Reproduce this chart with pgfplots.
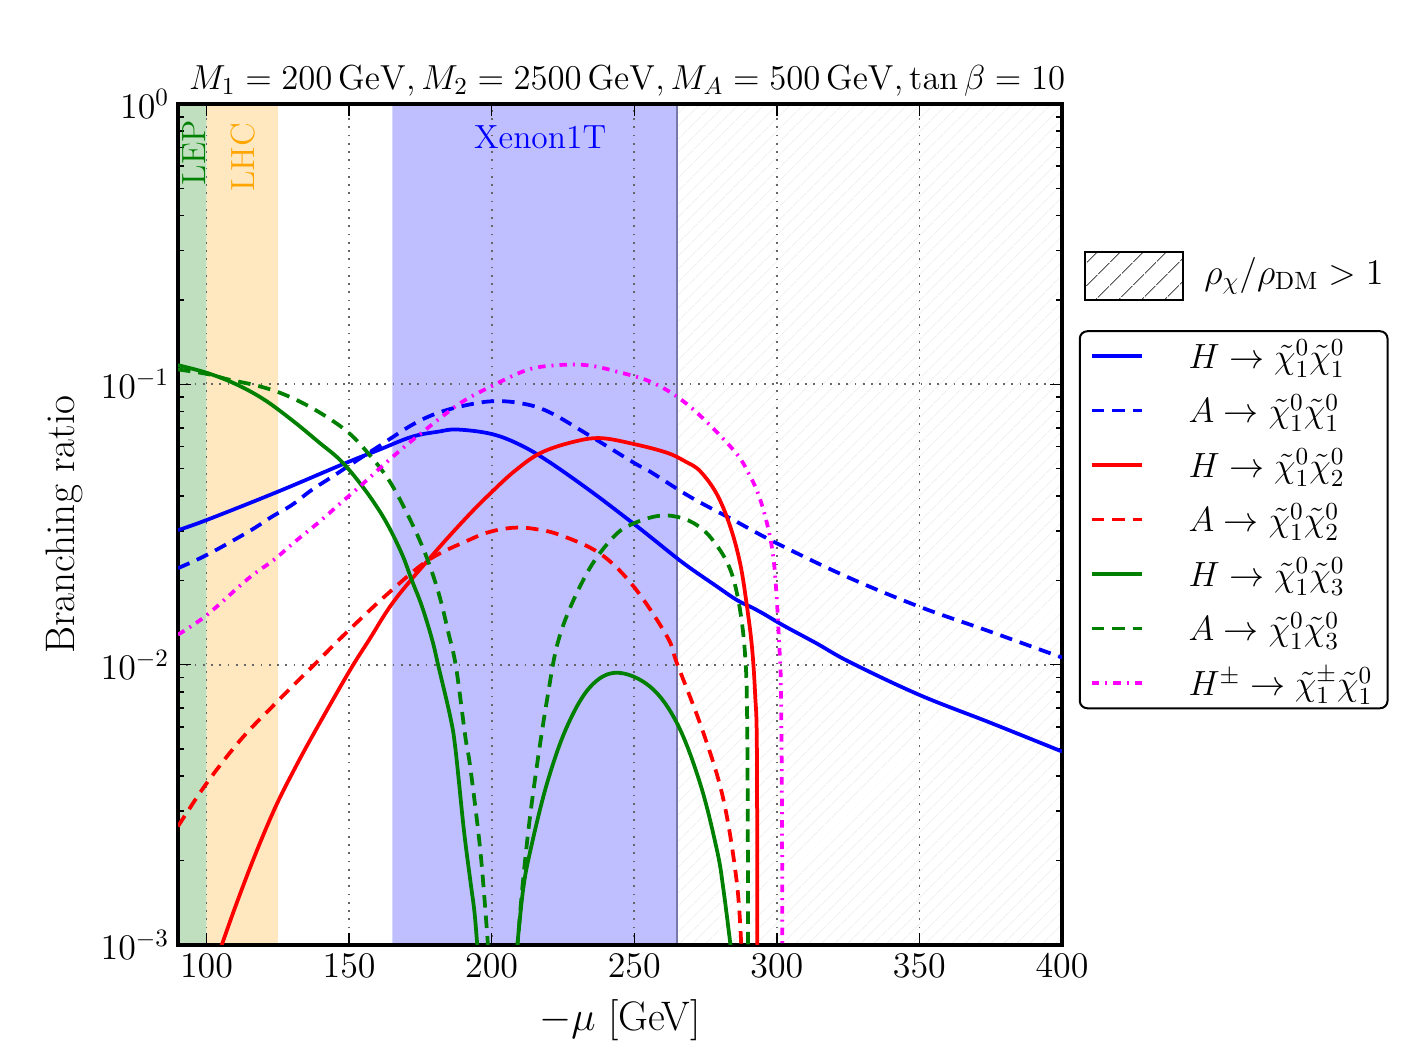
\RequirePackage{fix-cm}
\documentclass[border=0pt]{standalone}
\usepackage{pgfplots}
\pgfplotsset{compat=1.18}
\usetikzlibrary{patterns.meta}

\definecolor{lepband}{RGB}{191,223,191}
\definecolor{lhcband}{RGB}{255,232,191}
\definecolor{xenband}{RGB}{191,191,255}
\definecolor{xenedge}{RGB}{120,120,170}
\definecolor{mplgreen}{RGB}{0,128,0}
\definecolor{mplorange}{RGB}{255,165,0}
\definecolor{mplblue}{RGB}{0,0,255}
\definecolor{mplred}{RGB}{255,0,0}
\definecolor{mplmagenta}{RGB}{255,0,255}

\begin{document}
\begin{tikzpicture}
\begin{axis}[
  set layers=standard,
  scale only axis,
  width=353.6pt, height=336.4pt,
  ymode=log,
  xmin=90, xmax=400, ymin=1e-3, ymax=1,
  xtick={100,150,200,250,300,350,400},
  ytick={1e-3,1e-2,1e-1,1},
  tick align=inside,
  major tick length=5pt, minor tick length=2.5pt,
  every tick/.style={black, line width=0.6pt},
  axis line style={line width=1.3pt},
  grid=major,
  major grid style={gray!80!black, line width=0.7pt, dash pattern=on 0.7pt off 2.6pt},
  tick label style={font=\fontsize{14.4}{17}\selectfont},
  xlabel={$-\mu$ [GeV]},
  ylabel={Branching ratio},
  label style={font=\fontsize{16.5}{19}\selectfont},
  x label style={at={(axis description cs:0.5,-0.089)}, anchor=center},
  y label style={at={(axis description cs:-0.129,0.5)}, anchor=center},
  title={$M_1 = 200\,\mathrm{GeV}, M_2 = 2500\,\mathrm{GeV}, M_A = 500\,\mathrm{GeV}, \tan\beta = 10$},
  every axis title shift=0pt,
  title style={font=\fontsize{13.9}{16}\selectfont, at={(axis description cs:0.508,1.028)}, anchor=center},
  legend style={at={(1.019,0.731)}, anchor=north west, draw=black, line width=0.8pt,
    rounded corners=3pt, font=\fontsize{14}{16}\selectfont, row sep=4.9pt,
    inner xsep=4pt, inner ysep=1.5pt},
  legend cell align=left,
  legend image code/.code={\draw[#1, line width=1.5pt] (0pt,0pt) -- (20pt,0pt); \path (36pt,0pt);},
  every axis plot/.append style={line width=1.5pt},
]

% excluded and constrained regions
\addplot[draw=none, fill=lepband, forget plot, on layer=axis background]
  coordinates {(90,1e-3) (100,1e-3) (100,1) (90,1) (90,1e-3)};
\addplot[draw=none, fill=lhcband, forget plot, on layer=axis background]
  coordinates {(100,1e-3) (125,1e-3) (125,1) (100,1) (100,1e-3)};
\addplot[draw=none, fill=xenband, forget plot, on layer=axis background]
  coordinates {(165.2,1e-3) (265,1e-3) (265,1) (165.2,1) (165.2,1e-3)};
\addplot[draw=none, pattern={Lines[angle=45,distance=4pt,line width=0.4pt]}, pattern color=gray!12,
  forget plot, on layer=axis background]
  coordinates {(265,1e-3) (400,1e-3) (400,1) (265,1) (265,1e-3)};
\addplot[xenedge, line width=0.8pt, forget plot, on layer=axis background]
  coordinates {(265,1e-3) (265,1)};

% H -> chi1 chi1
\addplot[mplblue, smooth, tension=0.6] coordinates {
(90,0.0302) (100,0.0328) (125,0.0414) (148.6,0.0523) (160.3,0.0583) (172,0.0650)
(181.3,0.0678) (188,0.0690) (200,0.0665) (210,0.0608) (220,0.0530) (235,0.0414)
(250,0.0317) (255.6,0.0286) (267.3,0.0230) (279,0.0190) (286,0.0170) (291.8,0.0159)
(295.3,0.0152) (302.3,0.0138) (314,0.0119) (325.7,0.0102) (350,0.0078) (375,0.0062)
(400,0.0049)};
\addlegendentry{$H \rightarrow \tilde{\chi}^0_1\tilde{\chi}^0_1$}

% A -> chi1 chi1
\addplot[mplblue, dash pattern=on 5pt off 3.2pt, smooth, tension=0.6] coordinates {
(90,0.0221) (100,0.0246) (114.7,0.0298) (122.9,0.0337) (129.9,0.0371) (136.9,0.0420)
(144.5,0.0471) (152.1,0.0530) (160.3,0.0600) (172,0.0716) (180.7,0.0788) (190,0.0838)
(200,0.0870) (210,0.0857) (220,0.0798) (235,0.0650) (250,0.0524) (255.6,0.0488)
(269.6,0.0397) (284.8,0.0328) (300,0.0271) (324.5,0.0206) (350,0.0161) (375,0.0131)
(400,0.0106)};
\addlegendentry{$A \rightarrow \tilde{\chi}^0_1\tilde{\chi}^0_1$}

% H -> chi1 chi2
\addplot[mplred, smooth, tension=0.6] coordinates {
(104.6,0.00095) (110,0.00136) (117,0.00209) (124.2,0.00311) (131,0.00427)
(138.2,0.00582) (150,0.00944) (157,0.01225) (166,0.0170) (180,0.0251)
(191.4,0.0337) (199.5,0.0408) (208,0.0490) (217,0.0568) (228,0.0621)
(238,0.0643) (250,0.0612) (261.5,0.0570) (268,0.0530) (273.1,0.0490)
(279,0.0405) (283.7,0.0310) (287.2,0.0228) (289.5,0.0162) (291.3,0.0115)
(292.4,0.0078) (293,0.0050) (293.15,0.00095)};
\addlegendentry{$H \rightarrow \tilde{\chi}^0_1\tilde{\chi}^0_2$}

% A -> chi1 chi2
\addplot[mplred, dash pattern=on 5pt off 3.2pt, smooth, tension=0.6] coordinates {
(90,0.00265) (100,0.00377) (112,0.00540) (124.2,0.00728) (138.2,0.0101)
(150,0.0133) (163.8,0.0180) (177.8,0.0236) (191.9,0.0278) (199.5,0.0298)
(207.7,0.0308) (215,0.0305) (224,0.0290) (238,0.0249) (249.8,0.0190)
(261.5,0.0126) (265,0.0101) (274.3,0.00569) (281.3,0.00329) (286,0.00166)
(287.6,0.00095)};
\addlegendentry{$A \rightarrow \tilde{\chi}^0_1\tilde{\chi}^0_2$}

% H -> chi1 chi3
\addplot[mplgreen, smooth, tension=0.6] coordinates {
(90,0.117) (100,0.110) (110,0.1005) (120,0.0885) (130,0.0745) (139.2,0.0624)
(147.4,0.0530) (155.6,0.0420) (162.6,0.0328) (168.4,0.0250) (172,0.0200)
(175.5,0.0162) (179.1,0.0123) (181.4,0.0098) (185.5,0.0065) (187.3,0.0050)
(190.2,0.0026) (192.5,0.0017) (194,0.0013) (195.1,0.00095)};
\addlegendentry{$H \rightarrow \tilde{\chi}^0_1\tilde{\chi}^0_3$}

% A -> chi1 chi3
\addplot[mplgreen, dash pattern=on 5pt off 3.2pt, smooth, tension=0.6] coordinates {
(90,0.113) (100,0.109) (107.8,0.104) (118.3,0.0986) (127.7,0.0916) (138.2,0.0810)
(148.7,0.0687) (155.7,0.0583) (163.9,0.0456) (170.9,0.0337) (176.7,0.0249)
(181.4,0.0180) (184.9,0.0129) (187.5,0.0098) (190.8,0.0055) (192.5,0.0043)
(196,0.00218) (198.4,0.0011) (198.7,0.00095)};
\addlegendentry{$A \rightarrow \tilde{\chi}^0_1\tilde{\chi}^0_3$}

% second branches of the chi3 channels
\addplot[mplgreen, forget plot, smooth, tension=0.6] coordinates {
(208.8,0.00095) (211,0.00157) (213.6,0.00218) (219.4,0.00377) (226.4,0.00601)
(234.6,0.00834) (243.9,0.00936) (255.6,0.00834) (265,0.00618) (273.1,0.00377)
(279,0.00218) (281.3,0.00157) (284,0.00095)};
\addplot[mplgreen, dash pattern=on 5pt off 3.2pt, forget plot, smooth, tension=0.6] coordinates {
(208.9,0.00095) (211,0.0017) (214.2,0.00329) (219.4,0.00748) (224.1,0.0129)
(233.4,0.0212) (242.8,0.0286) (249.8,0.0319) (259.1,0.0340) (267.3,0.0332)
(274.3,0.0302) (280.1,0.0256) (283.7,0.0218) (286,0.0180) (287.8,0.0140)
(288.9,0.0107) (289.5,0.0075) (289.8,0.0030) (289.9,0.00095)};

% H+- -> chi1+- chi1
\addplot[mplmagenta, dash pattern=on 3pt off 2.4pt on 0.8pt off 2.4pt, smooth, tension=0.6] coordinates {
(90,0.0128) (100,0.0150) (114.7,0.0203) (123.5,0.0236) (131.1,0.0275) (139.2,0.0321)
(146.9,0.0376) (154.4,0.0438) (162,0.0515) (170.2,0.0608) (182.6,0.0767) (190,0.0870)
(199.5,0.0980) (212.4,0.1125) (222.9,0.1170) (233.4,0.1170) (243.9,0.1110) (256.8,0.1010)
(269.6,0.0832) (284.8,0.0583) (290.7,0.0469) (294.2,0.0387) (297.1,0.0302)
(298.9,0.0236) (300,0.0170) (300.8,0.0119) (301.4,0.00857) (301.8,0.0030)
(301.9,0.00095)};
\addlegendentry{$H^\pm \rightarrow \tilde{\chi}^\pm_1\tilde{\chi}^0_1$}

% region labels
\node[rotate=90, anchor=east, inner sep=0pt, text=mplgreen, font=\fontsize{13.4}{16}\selectfont]
  at (axis cs:95.5,0.88) {LEP};
\node[rotate=90, anchor=east, inner sep=0pt, text=mplorange, font=\fontsize{13.4}{16}\selectfont]
  at (axis cs:112.8,0.86) {LHC};
\node[text=mplblue, font=\fontsize{13.4}{16}\selectfont] at (axis cs:217,0.763) {Xenon1T};
\end{axis}

% relic density key
\draw[line width=0.8pt, pattern={Lines[angle=45,distance=6.5pt,line width=0.3pt]}]
  (362.8pt,258pt) rectangle (402pt,277.2pt);
\node[anchor=west, font=\fontsize{14.4}{16}\selectfont] at (407pt,267.6pt)
  {$\rho_\chi/\rho_{\mathrm{DM}} > 1$};

% page frame
\path (-71.2pt,-42pt) rectangle (498.8pt,378pt);
\end{tikzpicture}
\end{document}
